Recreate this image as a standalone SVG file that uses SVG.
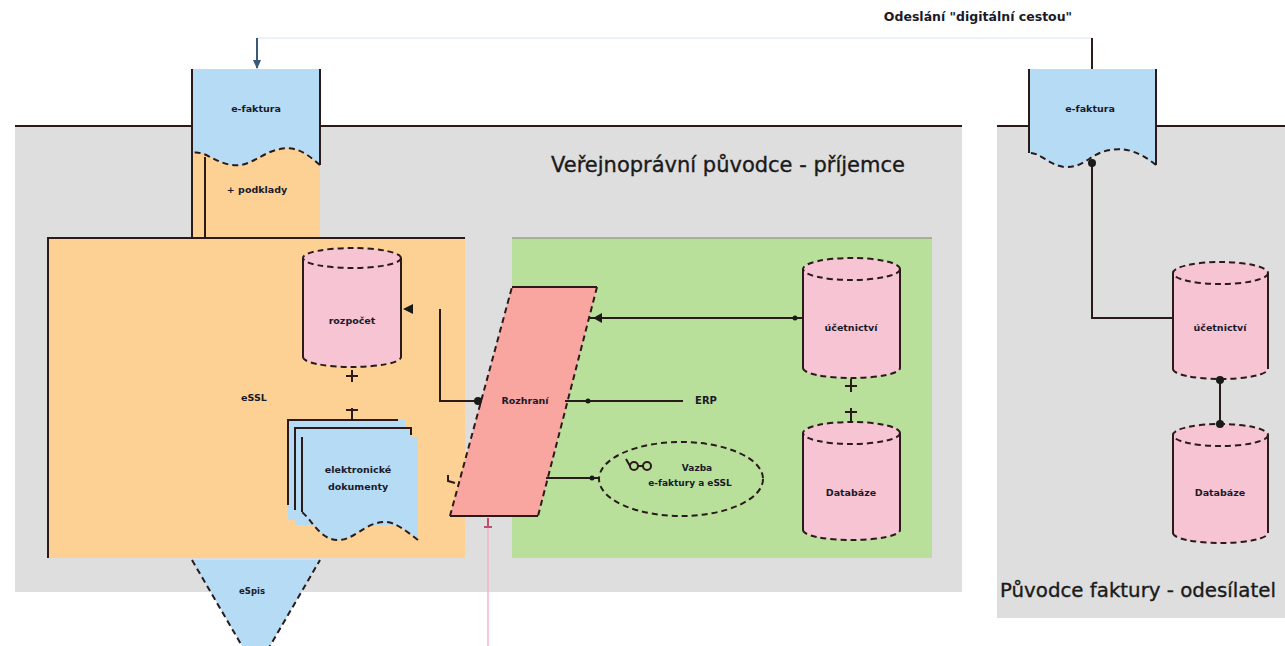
<svg xmlns="http://www.w3.org/2000/svg" width="1285" height="646" viewBox="0 0 1285 646">
<style>
.lbl{font-family:"DejaVu Sans","Liberation Sans",sans-serif;font-size:9.5px;font-weight:bold;fill:#1a1a2a;text-anchor:middle}
.big{font-family:"DejaVu Sans","Liberation Sans",sans-serif;font-size:21px;fill:#1a1a1a;stroke:#1a1a1a;stroke-width:0.35}
.ln{stroke:#2a1a1a;stroke-width:2;fill:none}
.dash{stroke:#2a1a1a;stroke-width:2;fill:none;stroke-dasharray:6,4}
.pink{fill:#f7c4d3}
.blue{fill:#b5dbf5}
</style>
<defs>
<marker id="dot" viewBox="0 0 10 10" refX="5" refY="5" markerWidth="5" markerHeight="5"><circle cx="5" cy="5" r="4" fill="#1a1a1a"/></marker>
</defs>
<rect width="1285" height="646" fill="#ffffff"/>

<g id="container-left">
<rect x="15" y="126" width="947" height="466" fill="#dedede"/>
<line x1="15" y1="126" x2="962" y2="126" class="ln"/>
<text x="551" y="172" class="big">Veřejnoprávní původce - příjemce</text>
</g>
<g id="container-right">
<rect x="997" y="126" width="288" height="492" fill="#dedede"/>
<line x1="997" y1="126" x2="1285" y2="126" class="ln"/>
<text x="1000" y="597" class="big" style="font-size:19.8px">Původce faktury - odesílatel</text>
</g>

<g id="essl">
<rect x="192" y="148" width="128" height="92" fill="#fdd093"/>
<rect x="48" y="238" width="417" height="320" fill="#fdd093"/>
<path d="M48,558V238H465" class="ln"/>
<line x1="192" y1="69" x2="192" y2="238" class="ln"/>
<line x1="205" y1="157" x2="205" y2="238" class="ln"/>
<text x="257" y="193" class="lbl">+ podklady</text>
<text x="254" y="401" class="lbl">eSSL</text>
</g>

<g id="erp-area">
<rect x="512" y="238" width="420" height="320" fill="#b8e09a"/>
<line x1="512" y1="238" x2="932" y2="238" stroke="#9aa08a" stroke-width="1.5"/>
<text x="706" y="404" class="lbl" style="font-size:10px">ERP</text>
</g>

<g id="efaktura-left">
<path d="M192,69H320V165C305,152 295,146 280,149C262,152 250,168 232,165C215,163 205,150 192,153Z" class="blue"/>
<path d="M192,153V69M320,69V165" class="ln"/>
<path d="M320,165C305,152 295,146 280,149C262,152 250,168 232,165C215,163 205,150 192,153" class="dash" stroke-dasharray="4,3"/>
<text x="256" y="112" class="lbl">e-faktura</text>
</g>

<g id="efaktura-right">
<path d="M1029,69H1156V165C1140,152 1125,147 1110,150C1090,153 1085,168 1065,167C1050,166 1040,152 1029,153Z" class="blue"/>
<path d="M1029,153V69M1156,69V165" class="ln"/>
<path d="M1156,165C1140,152 1125,147 1110,150C1090,153 1085,168 1065,167C1050,166 1040,152 1029,153" class="dash" stroke-dasharray="4,3"/>
<text x="1090" y="112" class="lbl">e-faktura</text>
</g>

<g id="cyl-rozpocet">
<path d="M303,258V357A49,10 0 0 0 401,357V258Z" class="pink"/>
<ellipse cx="352" cy="258" rx="49" ry="10" class="pink"/>
<path d="M303,258V357M401,258V357" class="ln"/>
<ellipse cx="352" cy="258" rx="49" ry="10" class="dash"/>
<path d="M303,357A49,10 0 0 0 401,357" class="dash"/>
<text x="352" y="324" class="lbl">rozpočet</text>
</g>

<g id="docs">
<path d="M288,420H405V520H288Z" class="blue"/>
<path d="M288,505V420H398" class="ln"/>
<path d="M295,428H411V525H295Z" class="blue"/>
<path d="M295,510V428H411V435" class="ln"/>
<path d="M302,437H418V540C405,530 395,522 385,522C365,522 355,540 338,540C320,540 312,520 302,512Z" class="blue"/>
<path d="M302,512V437" class="ln"/>
<path d="M418,540C405,530 395,522 385,522C365,522 355,540 338,540C320,540 312,520 302,512" class="dash" stroke-dasharray="4,3"/>
<text x="358" y="473" class="lbl">elektronické</text>
<text x="358" y="490" class="lbl">dokumenty</text>
</g>

<g id="rozhrani">
<path d="M512,287H597L538,516H450Z" fill="#f9a5a0"/>
<path d="M512,287H597M450,516H538" class="ln"/>
<path d="M597,287L538,516M450,516L512,287" class="dash" stroke-dasharray="5,3"/>
<text x="525" y="404" class="lbl">Rozhraní</text>
</g>

<g id="vazba">
<ellipse cx="681" cy="479" rx="82" ry="37" fill="none" class="dash" stroke-dasharray="6,4"/>
<circle cx="634" cy="466" r="4" class="ln" stroke-width="1.5"/>
<circle cx="647" cy="466" r="4" class="ln" stroke-width="1.5"/>
<path d="M638,466H643M630,466L626,459" class="ln" stroke-width="1.5"/>
<text x="697" y="471" class="lbl" style="font-size:9px">Vazba</text>
<text x="690" y="486" class="lbl" style="font-size:9px">e-faktury a eSSL</text>
</g>

<g id="cyl-ucetnictvi-prijemce">
<path d="M803,269V368A48.5,10 0 0 0 900,368V269Z" class="pink"/>
<ellipse cx="851.5" cy="269" rx="48.5" ry="11" class="pink"/>
<path d="M803,269V368M900,269V368" class="ln"/>
<ellipse cx="851.5" cy="269" rx="48.5" ry="11" class="dash"/>
<path d="M803,368A48.5,10 0 0 0 900,368" class="dash"/>
<text x="851" y="331" class="lbl">účetnictví</text>
</g>
<g id="cyl-databaze-prijemce">
<path d="M803,433V530A48.5,10 0 0 0 900,530V433Z" class="pink"/>
<ellipse cx="851.5" cy="433" rx="48.5" ry="11" class="pink"/>
<path d="M803,433V530M900,433V530" class="ln"/>
<ellipse cx="851.5" cy="433" rx="48.5" ry="11" class="dash"/>
<path d="M803,530A48.5,10 0 0 0 900,530" class="dash"/>
<text x="851" y="496" class="lbl">Databáze</text>
</g>

<g id="cyl-ucetnictvi-odesilatel">
<path d="M1173,273V369A47.5,10 0 0 0 1268,369V273Z" class="pink"/>
<ellipse cx="1220.5" cy="273" rx="47.5" ry="11" class="pink"/>
<path d="M1173,273V369M1268,273V369" class="ln"/>
<ellipse cx="1220.5" cy="273" rx="47.5" ry="11" class="dash"/>
<path d="M1173,369A47.5,10 0 0 0 1268,369" class="dash"/>
<text x="1220" y="331" class="lbl">účetnictví</text>
</g>
<g id="cyl-databaze-odesilatel">
<path d="M1173,435V533A47.5,10 0 0 0 1268,533V435Z" class="pink"/>
<ellipse cx="1220.5" cy="435" rx="47.5" ry="11" class="pink"/>
<path d="M1173,435V533M1268,435V533" class="ln"/>
<ellipse cx="1220.5" cy="435" rx="47.5" ry="11" class="dash"/>
<path d="M1173,533A47.5,10 0 0 0 1268,533" class="dash"/>
<text x="1220" y="496" class="lbl">Databáze</text>
</g>

<g id="espis">
<path d="M192,560H320L256,670Z" class="blue"/>
<path d="M192,560L256,670L320,560" class="dash" stroke-dasharray="4,3"/>
<text x="252" y="594" class="lbl" style="font-size:8.5px">eSpis</text>
</g>

<g id="connectors">
<line x1="257" y1="38" x2="1092" y2="38" stroke="#e6eef6" stroke-width="1.5"/>
<line x1="257" y1="38" x2="257" y2="68" stroke="#3a5a7a" stroke-width="2"/>
<path d="M253,60L257,69L261,60Z" fill="#3a5a7a"/>
<line x1="1092" y1="38" x2="1092" y2="69" class="ln"/>
<text x="978" y="21" class="lbl" style="font-size:12.5px">Odeslání "digitální cestou"</text>
<path d="M1173,318H1092V163" class="ln" marker-end="url(#dot)"/>
<path d="M1220,380V424" class="ln" marker-start="url(#dot)" marker-end="url(#dot)"/>
<path d="M352,370V382M346,376H358M352,408V420M346,410H358" class="ln" stroke-width="2.5"/>
<path d="M851,379V392M845,386H857M851,408V421M845,412H857" class="ln" stroke-width="2.5"/>
<path d="M403,309L413,304V314Z" fill="#1a1a1a"/>
<path d="M440,309V401H478" class="ln" marker-end="url(#dot)"/>
<path d="M565,401H683" class="ln"/>
<circle cx="588" cy="401" r="2.5" fill="#1a1a1a"/>
<path d="M590,318H802" class="ln"/>
<path d="M593,318L602,313V323Z" fill="#1a1a1a"/>
<circle cx="795" cy="318" r="2.5" fill="#1a1a1a"/>
<path d="M546,478H600" class="ln"/>
<circle cx="592" cy="478" r="2.5" fill="#1a1a1a"/>
<path d="M448,475V481L455,483" class="ln" stroke-width="1.5"/>
<line x1="488" y1="518" x2="488" y2="646" stroke="#f4b4c4" stroke-width="1.5"/>
<path d="M488,518V528M484,527H492" stroke="#c05070" stroke-width="2" fill="none"/>
</g>
</svg>
